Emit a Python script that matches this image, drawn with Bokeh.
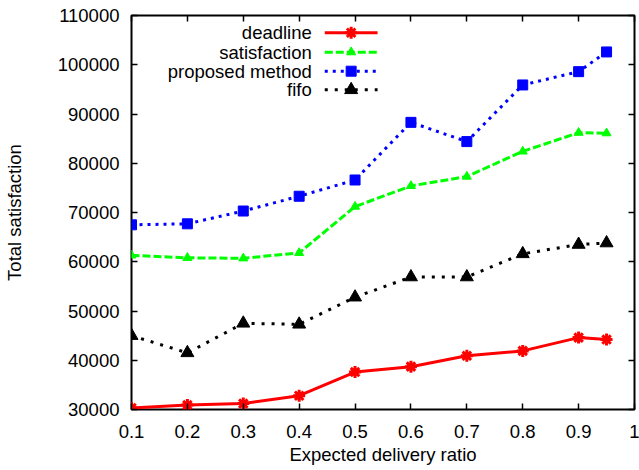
from bokeh.plotting import figure
from bokeh.models import FixedTicker, LinearAxis, Range1d
from bokeh.embed import file_html
from bokeh.resources import INLINE
from bokeh.core.properties import value

# ---- data ----
ratio = [0.1, 0.2, 0.3, 0.4, 0.5, 0.6, 0.7, 0.8, 0.9, 0.95]
deadline = [30300, 30900, 31200, 32800, 37600, 38700, 40900, 41900, 44600, 44200]
satisfaction = [61300, 60800, 60700, 61800, 71200, 75400, 77300, 82400, 86200, 86100]
proposed = [67500, 67700, 70300, 73300, 76600, 88300, 84400, 95900, 98600, 102600]
fifo = [45000, 41500, 47500, 47300, 52800, 56900, 56900, 61600, 63500, 63800]

x_ticks = [0.1, 0.2, 0.3, 0.4, 0.5, 0.6, 0.7, 0.8, 0.9, 1.0]
x_tick_labels = ["0.1", "0.2", "0.3", "0.4", "0.5", "0.6", "0.7", "0.8", "0.9", "1"]
y_ticks = [30000, 40000, 50000, 60000, 70000, 80000, 90000, 100000, 110000]
y_tick_labels = ["30000", "40000", "50000", "60000", "70000", "80000", "90000", "100000", "110000"]

series_names = ["deadline", "satisfaction", "proposed method", "fifo"]

FONT = "Liberation Sans"
FS = "18.5px"

p = figure(width=639, height=470, output_backend="svg", toolbar_location=None,
           x_range=Range1d(0.1, 1.0), y_range=Range1d(30000, 110000),
           min_border_left=129, min_border_top=15, min_border_right=5, min_border_bottom=61)
p.xgrid.visible = False
p.ygrid.visible = False
p.outline_line_color = "black"
p.outline_line_width = 2
p.outline_line_alpha = 1.0
p.background_fill_color = "white"
p.border_fill_color = "white"

for ax in p.xaxis:
    ax.ticker = FixedTicker(ticks=x_ticks)
    ax.major_label_overrides = dict(zip(x_ticks, x_tick_labels))
    ax.axis_label = "Expected delivery ratio"
    ax.axis_label_standoff = 3
    ax.major_label_standoff = 15
for ax in p.yaxis:
    ax.ticker = FixedTicker(ticks=y_ticks)
    ax.major_label_overrides = dict(zip(y_ticks, y_tick_labels))
    ax.axis_label = "Total satisfaction"
    ax.axis_label_standoff = 30
    ax.major_label_standoff = 12

for ax in list(p.xaxis) + list(p.yaxis):
    ax.major_label_text_font = FONT
    ax.major_label_text_font_size = FS
    ax.major_label_text_color = "black"
    ax.axis_label_text_font = FONT
    ax.axis_label_text_font_size = FS
    ax.axis_label_text_font_style = "normal"
    ax.axis_label_text_color = "black"
    ax.major_tick_in = 6
    ax.major_tick_out = 0
    ax.major_tick_line_width = 1.5
    ax.minor_tick_line_color = None
    ax.axis_line_color = None

# mirrored tick axes
top = LinearAxis(ticker=FixedTicker(ticks=x_ticks))
right = LinearAxis(ticker=FixedTicker(ticks=y_ticks))
for ax in (top, right):
    ax.major_tick_in = 6
    ax.major_tick_out = 0
    ax.major_tick_line_width = 1.5
    ax.minor_tick_line_color = None
    ax.axis_line_color = None
    ax.major_label_text_font_size = "0px"
    ax.major_label_standoff = 0
    ax.major_label_text_alpha = 0
p.add_layout(top, "above")
p.add_layout(right, "right")

# series
p.line(ratio, deadline, line_color="#ff0000", line_width=3)
p.scatter(ratio, deadline, marker="asterisk", size=12, line_color="#ff0000", line_width=3)

p.line(ratio, satisfaction, line_color="#00ff00", line_width=3, line_dash="8 3")
p.scatter(ratio, satisfaction, marker="triangle", size=9, fill_color="#00ff00", line_color="#00ff00")

p.line(ratio, proposed, line_color="#0000ff", line_width=3, line_dash="3 5")
p.scatter(ratio, proposed, marker="square", size=10, fill_color="#0000ff", line_color="#0000ff")

p.line(ratio, fifo, line_color="black", line_width=3, line_dash="3 7")
p.scatter(ratio, fifo, marker="triangle", size=13, fill_color="black", line_color="black")

# legend (gnuplot style: label on the left, sample on the right)
leg_text_x = 0.4226
leg_x0, leg_x1, leg_xm = 0.4458, 0.5403, 0.493
leg_y = [106490, 102550, 98690, 94910]
styles = [
    dict(color="#ff0000", dash="solid", marker="asterisk", size=12),
    dict(color="#00ff00", dash="8 3", marker="triangle", size=9),
    dict(color="#0000ff", dash="3 5", marker="square", size=10),
    dict(color="black", dash="3 7", marker="triangle", size=13),
]
p.text(x=[leg_text_x] * 4, y=leg_y, text=series_names, text_align="right", text_baseline="middle",
       text_font=value(FONT), text_font_size=FS, text_color="black")
for yy, st in zip(leg_y, styles):
    p.line([leg_x0, leg_x1], [yy, yy], line_color=st["color"], line_width=3, line_dash=st["dash"])
    if st["marker"] == "asterisk":
        p.scatter([leg_xm], [yy], marker="asterisk", size=st["size"], line_color=st["color"], line_width=3)
    else:
        p.scatter([leg_xm], [yy], marker=st["marker"], size=st["size"], fill_color=st["color"], line_color=st["color"])

open("out.html", "w").write(file_html(p, INLINE))
